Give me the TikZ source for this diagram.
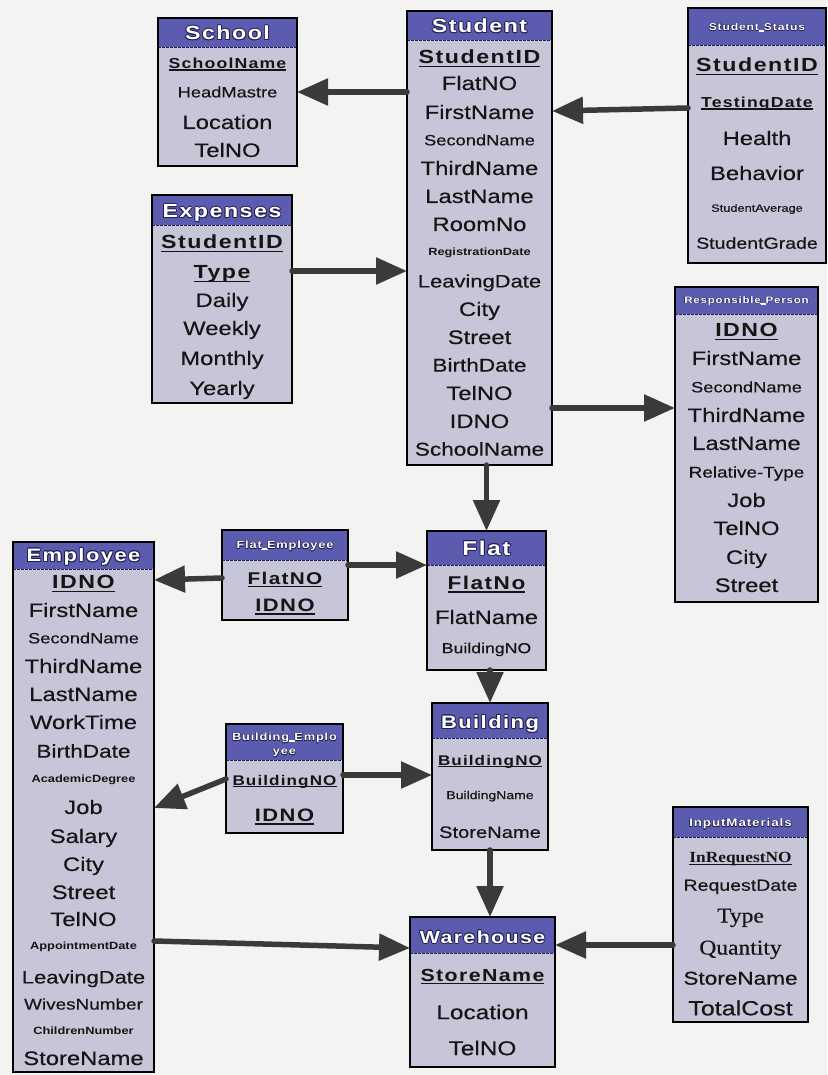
\documentclass[tikz,border=0pt]{standalone}
\usepackage{fontspec}
\setmainfont{Liberation Sans}[FakeStretch=1.22,UprightFeatures={FakeBold=0.4}]
\newfontfamily\keyfont{Liberation Sans}[FakeStretch=1.22,LetterSpace=8]
\newfontfamily\tnr{Liberation Serif}[FakeStretch=1.12,UprightFeatures={FakeBold=0.4}]
\usetikzlibrary{arrows.meta}

\definecolor{paper}{HTML}{F3F3F1}
\definecolor{headfill}{HTML}{5B5BAF}
\definecolor{bodyfill}{HTML}{C6C6D8}
\definecolor{hdline}{HTML}{1E1E50}
\definecolor{arrowgrey}{HTML}{3A3A3A}
\definecolor{ink}{HTML}{151515}

% font size shortcut
\newcommand\fs[1]{\fontsize{#1}{#1}\selectfont}
% bold underlined key attribute
\newcommand\ky[1]{{\keyfont\bfseries\setbox0\hbox{#1}\rlap{\rule[-0.17em]{\wd0}{0.08em}}\box0}}
% white lettering with a dark outline for the table titles
\newdimen\olw
\newcommand\olt[2][0.9pt]{{\olw=#1\setbox0\hbox{#2}\hbox{\color{hdline}%
  \rlap{\kern-\olw\copy0}\rlap{\kern\olw\copy0}\rlap{\raise\olw\copy0}\rlap{\lower\olw\copy0}%
  \rlap{\kern-.7\olw\raise.7\olw\copy0}\rlap{\kern.7\olw\raise.7\olw\copy0}%
  \rlap{\kern-.7\olw\lower.7\olw\copy0}\rlap{\kern.7\olw\lower.7\olw\copy0}%
  \color{white}\copy0}}}
% an underscore drawn as a white bar, so it stays visible inside small titles
\newcommand\us{\textcolor{white}{\rule[-0.08em]{0.5em}{0.09em}}}

% table frame: name, left, top, right, bottom, bottom of title band
\newcommand\tbl[6]{%
  \node[tblbox, minimum width={(#4-#2)*1pt}, minimum height={(#5-#3)*1pt}]
    (#1) at ({(#2+#4)/2},{(#3+#5)/2}) {};
  \fill[headfill] (#1.north west) rectangle (#4,#6);
  \draw[sepline] (#2,#6) -- (#4,#6);
  \draw[boxline] (#1.north west) rectangle (#1.south east);
}
% attribute row: name, x, y (middle of capitals), size, text
\newcommand\rw[5]{\node[rowtxt, font=\fs{#4}] (#1) at (#2,{#3+0.358*#4}) {#5};}
% table title: name, x, y, size, text, outline width
\newcommand\hd[6]{\node[rowtxt, font=\fs{#4}\keyfont\bfseries] (#1) at (#2,{#3+0.358*#4}) {\olt[#6]{#5}};}

\begin{document}
\begin{tikzpicture}[x=1pt,y=-1pt,
  tblbox/.style={rectangle, fill=bodyfill, inner sep=0pt, outer sep=0pt},
  boxline/.style={draw=black, line width=1.3pt},
  sepline/.style={draw=hdline, line width=0.8pt, dash pattern=on 3pt off 1pt},
  rowtxt/.style={inner sep=0pt, anchor=base, text=ink},
  conn/.style={draw=arrowgrey, line width=5.5pt, line cap=round,
    -{Triangle[length=31pt,width=26pt,fill=arrowgrey]}}]

\useasboundingbox (0,0) rectangle (827,1075);
\fill[paper] (0,0) rectangle (827,1075);

% ---------------- School
\tbl{school}{158}{18}{297}{166}{47}
\hd{school-h}{227.5}{33}{19}{School}{0.9pt}
\rw{school-1}{227.5}{63}{14.5}{\ky{SchoolName}}
\rw{school-2}{227.5}{92}{15}{HeadMastre}
\rw{school-3}{227.5}{122}{19.5}{Location}
\rw{school-4}{227.5}{150}{19.5}{TelNO}

% ---------------- Student
\tbl{student}{407}{11}{552}{465}{40}
\hd{student-h}{479.5}{26}{19}{Student}{0.9pt}
\rw{student-1}{479.5}{57}{19}{\ky{StudentID}}
\rw{student-2}{479.5}{83}{19.5}{FlatNO}
\rw{student-3}{479.5}{112}{19.5}{FirstName}
\rw{student-4}{479.5}{140}{15}{SecondName}
\rw{student-5}{479.5}{168}{19.5}{ThirdName}
\rw{student-6}{479.5}{196}{19.5}{LastName}
\rw{student-7}{479.5}{224}{19.5}{RoomNo}
\rw{student-8}{479.5}{252}{10.5}{\textbf{RegistrationDate}}
\rw{student-9}{479.5}{281}{18}{LeavingDate}
\rw{student-10}{479.5}{309}{19.5}{City}
\rw{student-11}{479.5}{337}{19.5}{Street}
\rw{student-12}{479.5}{365}{18.5}{BirthDate}
\rw{student-13}{479.5}{393}{19.5}{TelNO}
\rw{student-14}{479.5}{421}{19.5}{IDNO}
\rw{student-15}{479.5}{449}{18.5}{SchoolName}

% ---------------- Student_Status
\tbl{status}{688}{8}{826}{263}{45}
\hd{status-h}{757}{27}{10}{Student\us Status}{0.45pt}
\rw{status-1}{757}{65}{19}{\ky{StudentID}}
\rw{status-2}{757}{102}{14.5}{\ky{TestingDate}}
\rw{status-3}{757}{138}{19.5}{Health}
\rw{status-4}{757}{173}{19.5}{Behavior}
\rw{status-5}{757}{208}{10.5}{StudentAverage}
\rw{status-6}{757}{243}{16}{StudentGrade}

% ---------------- Expenses
\tbl{expenses}{152}{195}{292}{403}{225}
\hd{expenses-h}{222}{211}{19}{Expenses}{0.9pt}
\rw{expenses-1}{222}{242}{19}{\ky{StudentID}}
\rw{expenses-2}{222}{272}{19}{\ky{Type}}
\rw{expenses-3}{222}{300}{19.5}{Daily}
\rw{expenses-4}{222}{328}{19.5}{Weekly}
\rw{expenses-5}{222}{358}{19.5}{Monthly}
\rw{expenses-6}{222}{388}{19.5}{Yearly}

% ---------------- Responsible_Person
\tbl{resp}{675}{287}{818}{602}{314}
\hd{resp-h}{746.5}{300}{9.5}{Responsible\us Person}{0.4pt}
\rw{resp-1}{746.5}{330}{19}{\ky{IDNO}}
\rw{resp-2}{746.5}{358}{19.5}{FirstName}
\rw{resp-3}{746.5}{387}{15}{SecondName}
\rw{resp-4}{746.5}{415}{19.5}{ThirdName}
\rw{resp-5}{746.5}{443}{19.5}{LastName}
\rw{resp-6}{746.5}{472}{15.5}{Relative-Type}
\rw{resp-7}{746.5}{500}{19.5}{Job}
\rw{resp-8}{746.5}{528}{19.5}{TelNO}
\rw{resp-9}{746.5}{557}{19.5}{City}
\rw{resp-10}{746.5}{585}{19.5}{Street}

% ---------------- Employee
\tbl{employee}{13}{542}{154}{1072}{569}
\hd{employee-h}{83.5}{555}{18}{Employee}{0.9pt}
\rw{employee-1}{83.5}{582}{19}{\ky{IDNO}}
\rw{employee-2}{83.5}{610}{19.5}{FirstName}
\rw{employee-3}{83.5}{638}{15}{SecondName}
\rw{employee-4}{83.5}{666}{19.5}{ThirdName}
\rw{employee-5}{83.5}{694}{19.5}{LastName}
\rw{employee-6}{83.5}{722}{19.5}{WorkTime}
\rw{employee-7}{83.5}{751}{18.5}{BirthDate}
\rw{employee-8}{83.5}{779}{10.5}{\textbf{AcademicDegree}}
\rw{employee-9}{83.5}{807}{19.5}{Job}
\rw{employee-10}{83.5}{836}{19.5}{Salary}
\rw{employee-11}{83.5}{864}{19.5}{City}
\rw{employee-12}{83.5}{892}{19.5}{Street}
\rw{employee-13}{83.5}{919}{19.5}{TelNO}
\rw{employee-14}{83.5}{946}{10.5}{\textbf{AppointmentDate}}
\rw{employee-15}{83.5}{977}{18}{LeavingDate}
\rw{employee-16}{83.5}{1004}{15.5}{WivesNumber}
\rw{employee-17}{83.5}{1031}{10.5}{\textbf{ChildrenNumber}}
\rw{employee-18}{83.5}{1058}{19.5}{StoreName}

% ---------------- Flat_Employee
\tbl{flatemp}{222}{530}{348}{620}{560}
\hd{flatemp-h}{285}{545}{10.5}{Flat\us Employee}{0.45pt}
\rw{flatemp-1}{285}{578}{17}{\ky{FlatNO}}
\rw{flatemp-2}{285}{605}{18}{\ky{IDNO}}

% ---------------- Flat
\tbl{flat}{427}{531}{546}{670}{565}
\hd{flat-h}{486.5}{548}{20}{Flat}{0.9pt}
\rw{flat-1}{486.5}{583}{18.5}{\ky{FlatNo}}
\rw{flat-2}{486.5}{617}{19.5}{FlatName}
\rw{flat-3}{486.5}{648}{14.5}{BuildingNO}

% ---------------- Building_Employee (title on two lines)
\tbl{bemp}{226}{724}{343}{833}{760}
\hd{bemp-h1}{284.5}{737}{10.5}{Building\us Emplo}{0.45pt}
\hd{bemp-h2}{284.5}{751}{10.5}{yee}{0.45pt}
\rw{bemp-1}{284.5}{780}{14}{\ky{BuildingNO}}
\rw{bemp-2}{284.5}{815}{18}{\ky{IDNO}}

% ---------------- Building
\tbl{building}{432}{703}{548}{850}{738}
\hd{building-h}{490}{722}{18}{Building}{0.9pt}
\rw{building-1}{490}{760}{14}{\ky{BuildingNO}}
\rw{building-2}{490}{795}{11.5}{BuildingName}
\rw{building-3}{490}{832}{16.5}{StoreName}

% ---------------- Warehouse
\tbl{warehouse}{410}{917}{555}{1067}{953}
\hd{warehouse-h}{482.5}{937}{17.5}{Warehouse}{0.9pt}
\rw{warehouse-1}{482.5}{975}{17.5}{\ky{StoreName}}
\rw{warehouse-2}{482.5}{1012}{20}{Location}
\rw{warehouse-3}{482.5}{1048}{20}{TelNO}

% ---------------- InputMaterials
\tbl{input}{673}{807}{808}{1022}{837}
\hd{input-h}{740.5}{823}{11}{InputMaterials}{0.5pt}
\rw{input-1}{740.5}{857}{15.5}{{\tnr\bfseries\setbox0\hbox{InRequestNO}\rlap{\rule[-0.17em]{\wd0}{0.08em}}\box0}}
\rw{input-2}{740.5}{885}{16}{RequestDate}
\rw{input-3}{740.5}{915}{21}{\tnr Type}
\rw{input-4}{740.5}{947}{21}{\tnr Quantity}
\rw{input-5}{740.5}{978}{18.5}{StoreName}
\rw{input-6}{740.5}{1008}{20.5}{TotalCost}

% ---------------- relationships
\draw[conn] ([yshift=-81pt]student.north west) -- ([yshift=-74pt]school.north east);
\draw[conn] ([yshift=-100pt]status.north west) -- ([yshift=-100pt]student.north east);
\draw[conn] ([yshift=-76pt]expenses.north east) -- ([yshift=-260pt]student.north west);
\draw[conn] ([yshift=-397pt]student.north east) -- ([yshift=-121pt]resp.north west);
\draw[conn] (flat.north |- student.south) -- (flat.north);
\draw[conn] ([yshift=-48pt]flatemp.north west) -- ([yshift=-38pt]employee.north east);
\draw[conn] ([yshift=-35pt]flatemp.north east) -- ([yshift=-34pt]flat.north west);
\draw[conn] (building.north |- flat.south) -- (building.north);
\draw[conn] ([yshift=-55pt]bemp.north west) -- ([yshift=-266pt]employee.north east);
\draw[conn] ([yshift=-51pt]bemp.north east) -- ([yshift=-72pt]building.north west);
\draw[conn] (building.south) -- (building.south |- warehouse.north);
\draw[conn] ([yshift=-399pt]employee.north east) -- ([yshift=-31pt]warehouse.north west);
\draw[conn] ([yshift=-138pt]input.north west) -- ([yshift=-28pt]warehouse.north east);
\end{tikzpicture}
\end{document}
